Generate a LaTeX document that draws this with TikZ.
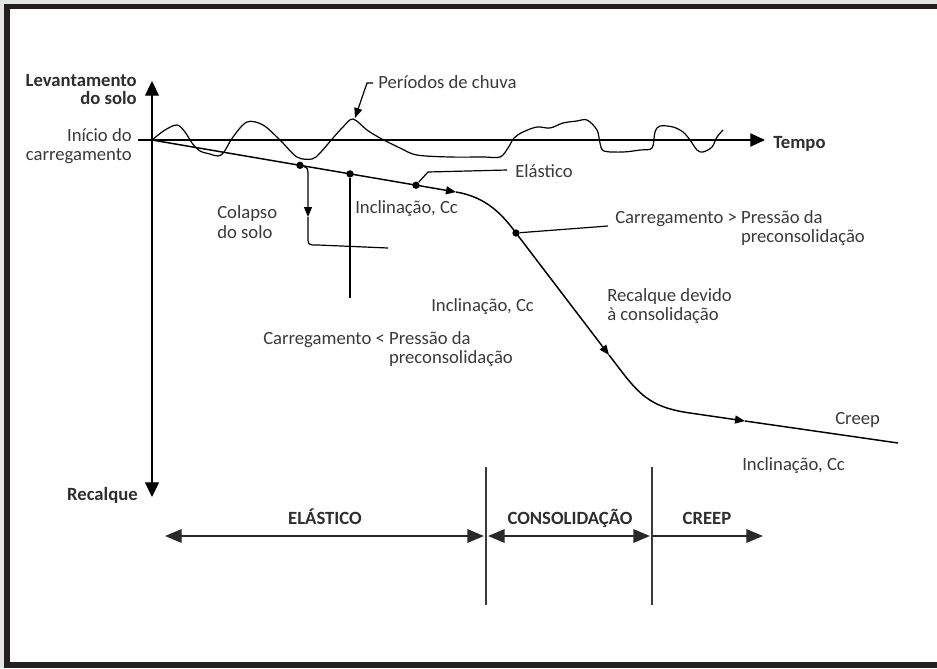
\documentclass[tikz,border=0pt]{standalone}
\usepackage{fontspec}
\setmainfont{Carlito}
\usepackage{tikz}
\usetikzlibrary{arrows.meta}
\definecolor{moldura}{HTML}{231F20}
\definecolor{fundo}{HTML}{E4E6E3}
\definecolor{ink}{HTML}{3A3A3A}
\tikzset{
  txt/.style={text=ink,inner sep=0pt,font=\fontsize{14}{14}\selectfont},
  txtb/.style={text=ink!80!black,inner sep=0pt,font=\fontsize{14}{13.5}\selectfont\bfseries},
  blob/.style={circle,fill=black,inner sep=0pt,minimum size=5.5pt},
  pathline/.style={line width=1.1pt},
  lead/.style={line width=0.9pt},
  midtip/.style={-{Triangle[length=7.5pt,width=6pt]}},
  axisline/.style={line width=0.8pt},
  span/.style={line width=1.8pt,draw=ink!70!black}
}
\begin{document}
\begin{tikzpicture}[x=0.75pt,y=-0.75pt]
\useasboundingbox (0,0) rectangle (937,668);
\fill[fundo] (0,0) rectangle (937,668);
\fill[moldura] (4,4) rectangle (937,668);
\fill[white] (10,9) rectangle (937,662);

\coordinate (O) at (152,140);
\coordinate (up) at (152,81);
\coordinate (down) at (152,497);
\coordinate (t0) at (138,140);
\coordinate (t1) at (765,140);
\draw[axisline,{Triangle[length=11pt,width=10.5pt]}-{Triangle[length=11pt,width=10.5pt]}] (down) -- (up);
\draw[axisline,-{Triangle[length=11pt,width=10pt]}] (t0) -- (t1);

% multi-line nodes: base = last line
\node[txtb,align=right,anchor=base east] (lev) at (137,104) {Levantamento\\do solo};
\node[txt,align=right,anchor=base east] (ini) at (132,160) {Início do\\carregamento};
\node[txtb,anchor=base east] (rec) at (138,500) {Recalque};
\node[txtb,anchor=base west] (tempo) at (773,148) {Tempo};

% chuva
\draw[lead] plot[smooth,tension=0.55] coordinates {(152,140) (165,130) (177,125) (185,132) (192,143) (200,151) (210,154) (218,156) (224,152) (233,137) (247,122) (263,125) (280,140) (297,157) (312,159) (320,153) (333,138) (343,127) (353,119) (367,130) (380,138) (400,148) (417,155) (450,157) (483,157) (500,157) (508,148) (514,138) (523,132) (537,127) (550,128) (563,123) (577,121) (587,120) (597,130) (600,143) (604,151) (623,152) (640,150) (652,148) (655,132) (660,126) (673,127) (683,132) (690,140) (697,150) (703,152) (712,147) (717,137) (723,130)};
\node[txt,anchor=base west] (chuva) at (378,88) {Períodos de chuva};
\coordinate (r0) at (373,83);
\coordinate (r1) at (367,83);
\coordinate (r2) at (355,118);
\draw[lead,midtip] (r0) -- (r1) -- (r2);

% recalque
\node[blob] (p1) at (300,165.3) {};
\node[blob] (p2) at (350,173.9) {};
\node[blob] (p3) at (416,185.2) {};
\node[blob] (p4) at (516,233) {};
\coordinate (a1) at (456,192);
\coordinate (a2) at (609,355);
\coordinate (a3) at (745,421);
\coordinate (fim) at (898,443);
\draw[pathline,midtip] (O) -- (a1);
\draw[pathline,midtip] (a1) .. controls (486,197) and (502,214) .. (p4.center) -- (a2);
\draw[pathline,midtip] (a2) -- (622,372) .. controls (642,398) and (655,408) .. (690,413) -- (a3);
\draw[pathline] (a3) -- (fim);

\coordinate (c1) at (308,217);
\draw[lead,midtip] (p1) .. controls (308,168) .. (308,178) -- (c1);
\draw[lead] (c1) -- (308,237) .. controls (308,245) .. (318,245) -- (388,248);
\draw[lead] (p2) -- (350,298);
\draw[lead] (p3) -- (428,172) -- (507,170);
\draw[lead] (p4) -- (608,226);

\node[txt,anchor=base west] (ela) at (515,177) {Elástico};
\node[txt,anchor=base west] (inc1) at (355,213) {Inclinação, Cc};
\node[txt,anchor=base west] (inc2) at (431,311) {Inclinação, Cc};
\node[txt,anchor=base west] (inc3) at (742,470) {Inclinação, Cc};
\node[txt,align=left,anchor=base west,font=\fontsize{14}{15}\selectfont] (colapso) at (217,238) {Colapso\\do solo};
\node[txt,align=left,anchor=base west] (cmaior) at (615,242) {Carregamento > Pressão da\\\phantom{Carregamento > }preconsolidação};
\node[txt,align=left,anchor=base west] (cmenor) at (263,363) {Carregamento < Pressão da\\\phantom{Carregamento < }preconsolidação};
\node[txt,align=left,anchor=base west] (recdev) at (607,320) {Recalque devido\\à consolidação};
\node[txt,anchor=base west] (creep) at (835,424) {Creep};

% fases
\coordinate (s1a) at (486,467);
\coordinate (s1b) at (486,605);
\coordinate (s2a) at (652,467);
\coordinate (s2b) at (652,605);
\draw[line width=1pt,ink] (s1a) -- (s1b);
\draw[line width=1pt,ink] (s2a) -- (s2b);
\coordinate (e0) at (165,536);
\coordinate (e1) at (484,536);
\coordinate (k0) at (488,536);
\coordinate (k1) at (650,536);
\coordinate (q0) at (652,536);
\coordinate (q1) at (763,536);
\draw[span,{Triangle[length=12.5pt,width=10pt]}-{Triangle[length=12.5pt,width=10pt]}] (e0) -- (e1);
\draw[span,{Triangle[length=12.5pt,width=10pt]}-{Triangle[length=12.5pt,width=10pt]}] (k0) -- (k1);
\draw[span,-{Triangle[length=12.5pt,width=10pt]}] (q0) -- (q1);
\node[txtb,anchor=base] (lel) at (325,524) {ELÁSTICO};
\node[txtb,anchor=base] (lcon) at (570,524) {CONSOLIDAÇÃO};
\node[txtb,anchor=base] (lcr) at (707,524) {CREEP};
\end{tikzpicture}
\end{document}
